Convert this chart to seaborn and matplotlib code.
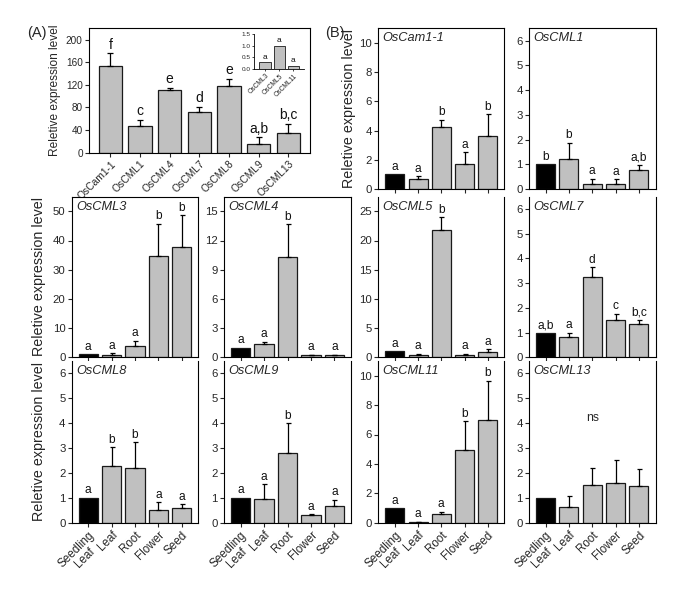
import numpy as np
import pandas as pd
import matplotlib
matplotlib.use("Agg")
import matplotlib.pyplot as plt
import seaborn as sns

# ---------------- data ----------------
tissues = ["Seedling\nLeaf", "Leaf", "Root", "Flower", "Seed"]

a_genes = ["OsCam1-1", "OsCML1", "OsCML4", "OsCML7", "OsCML8", "OsCML9", "OsCML13"]
a_means = [152.5, 46.5, 111.5, 72.5, 118.5, 16.0, 34.5]
a_errs = [23.5, 12.0, 3.5, 9.0, 12.5, 11.5, 17.0]
a_letters = ["f", "c", "e", "d", "e", "a,b", "b,c"]

inset_genes = ["OsCML3", "OsCML5", "OsCML11"]
inset_means = [0.29, 1.0, 0.14]
inset_letters = ["a", "a", "a"]

cam1_means = [1.0, 0.7, 4.22, 1.72, 3.65]
cam1_errs = [0.0, 0.17, 0.52, 0.78, 1.45]
cam1_letters = ["a", "a", "b", "a", "b"]

cml1_means = [1.0, 1.23, 0.2, 0.22, 0.78]
cml1_errs = [0.0, 0.64, 0.22, 0.17, 0.18]
cml1_letters = ["b", "b", "a", "a", "a,b"]

cml3_means = [1.0, 0.9, 4.0, 34.7, 37.9]
cml3_errs = [0.0, 0.5, 1.7, 11.0, 10.8]
cml3_letters = ["a", "a", "a", "b", "b"]

cml4_means = [1.0, 1.33, 10.28, 0.2, 0.2]
cml4_errs = [0.0, 0.27, 3.42, 0.07, 0.07]
cml4_letters = ["a", "a", "b", "a", "a"]

cml5_means = [1.0, 0.46, 21.8, 0.35, 0.9]
cml5_errs = [0.0, 0.14, 2.15, 0.3, 0.45]
cml5_letters = ["a", "a", "b", "a", "a"]

cml7_means = [1.0, 0.83, 3.25, 1.49, 1.34]
cml7_errs = [0.0, 0.17, 0.4, 0.28, 0.18]
cml7_letters = ["a,b", "a", "d", "c", "b,c"]

cml8_means = [1.0, 2.26, 2.19, 0.51, 0.58]
cml8_errs = [0.0, 0.77, 1.05, 0.32, 0.16]
cml8_letters = ["a", "b", "b", "a", "a"]

cml9_means = [1.0, 0.96, 2.81, 0.31, 0.69]
cml9_errs = [0.0, 0.59, 1.19, 0.03, 0.24]
cml9_letters = ["a", "a", "b", "a", "a"]

cml11_means = [1.0, 0.07, 0.62, 4.93, 6.99]
cml11_errs = [0.0, 0.01, 0.13, 1.97, 2.67]
cml11_letters = ["a", "a", "a", "b", "b"]

cml13_means = [1.0, 0.65, 1.52, 1.59, 1.48]
cml13_errs = [0.0, 0.44, 0.66, 0.95, 0.67]
cml13_letters = ["", "", "", "", ""]

ylabel_text = "Reletive expression level"

# ---------------- style ----------------
sns.set_style("ticks")
plt.rcParams['font.family'] = ['Liberation Sans', 'DejaVu Sans']
plt.rcParams['axes.linewidth'] = 0.8
plt.rcParams['axes.edgecolor'] = 'black'

GREY = "#c0c0c0"
EDGE = "#1a1a1a"
W, H = 685, 595
fig = plt.figure(figsize=(W / 100, H / 100), dpi=100)


def px_axes(x0, y0, x1, y1):
    return fig.add_axes([x0 / W, 1 - y1 / H, (x1 - x0) / W, (y1 - y0) / H])


def draw_bars(ax, cats, means, errs, letters, first_black, width,
              letter_size, capsize=1.8, lw=0.9):
    df = pd.DataFrame({"cat": cats, "val": means})
    colors = {c: GREY for c in cats}
    if first_black:
        colors[cats[0]] = "black"
    sns.barplot(data=df, x="cat", y="val", hue="cat", palette=colors,
                order=cats, hue_order=cats, legend=False, width=width,
                edgecolor=EDGE, linewidth=lw, errorbar=None, saturation=1,
                ax=ax)
    x = np.arange(len(cats))
    m = np.asarray(means, dtype=float)
    e = np.zeros(len(cats)) if errs is None else np.asarray(errs, dtype=float)
    mask = e > 0
    if mask.any():
        ax.errorbar(x[mask], m[mask], yerr=[np.zeros(mask.sum()), e[mask]],
                    fmt='none', ecolor='black', elinewidth=lw,
                    capsize=capsize, capthick=lw, zorder=3)
    for xi, mi, ei, lab in zip(x, m, e, letters):
        if lab:
            ax.annotate(lab, (xi, mi + ei), xytext=(0, 1.0),
                        textcoords='offset points', ha='center', va='bottom',
                        fontsize=letter_size, color='#111111')
    ax.set_xlabel("")
    ax.set_ylabel("")


# ---------------- panel A ----------------
axA = px_axes(89, 28.3, 310, 152.7)
draw_bars(axA, a_genes, a_means, a_errs, a_letters, False, 0.79, 10,
          capsize=2.2)
axA.set_ylim(0, 220)
axA.set_xlim(-0.72, 6.73)
axA.set_yticks([0, 40, 80, 120, 160, 200])
axA.tick_params(axis='both', direction='out', length=3, width=0.8,
                labelsize=7.2, pad=1.5)
axA.set_xticks(range(len(a_genes)))
axA.set_xticklabels(a_genes, rotation=45, ha='right', rotation_mode='anchor',
                    fontsize=7.4)
axA.set_ylabel(ylabel_text, fontsize=8.6)
axA.yaxis.set_label_coords(-0.125, 0.5)

# inset
axI = px_axes(254, 34, 304, 69)
draw_bars(axI, inset_genes, inset_means, None, inset_letters, False, 0.82,
          6, lw=0.6)
axI.set_ylim(0, 1.5)
axI.set_xlim(-0.8, 2.75)
axI.set_yticks([0, 0.5, 1.0, 1.5])
axI.set_yticklabels(["0.0", "0.5", "1.0", "1.5"])
axI.tick_params(axis='both', direction='out', length=1.5, width=0.6,
                labelsize=4.6, pad=1)
axI.set_xticks(range(len(inset_genes)))
axI.set_xticklabels(inset_genes, rotation=45, ha='right',
                    rotation_mode='anchor', fontsize=4.8)
axI.spines['top'].set_visible(False)
axI.spines['right'].set_visible(False)
for s in axI.spines.values():
    s.set_linewidth(0.6)

# ---------------- panel B ----------------
cols = [(71.7, 198.3), (224, 351), (378.3, 504.3), (529, 655.5)]
rows = [(28.3, 189), (196.7, 357.3), (361, 522.7)]

panels = [
    ("OsCam1-1", cam1_means, cam1_errs, cam1_letters, 0, 2, 11, [0, 2, 4, 6, 8, 10], True),
    ("OsCML1", cml1_means, cml1_errs, cml1_letters, 0, 3, 6.5, list(range(7)), True),
    ("OsCML3", cml3_means, cml3_errs, cml3_letters, 1, 0, 55, [0, 10, 20, 30, 40, 50], True),
    ("OsCML4", cml4_means, cml4_errs, cml4_letters, 1, 1, 16.5, [0, 3, 6, 9, 12, 15], True),
    ("OsCML5", cml5_means, cml5_errs, cml5_letters, 1, 2, 27.5, [0, 5, 10, 15, 20, 25], False),
    ("OsCML7", cml7_means, cml7_errs, cml7_letters, 1, 3, 6.5, list(range(7)), False),
    ("OsCML8", cml8_means, cml8_errs, cml8_letters, 2, 0, 6.5, list(range(7)), False),
    ("OsCML9", cml9_means, cml9_errs, cml9_letters, 2, 1, 6.5, list(range(7)), False),
    ("OsCML11", cml11_means, cml11_errs, cml11_letters, 2, 2, 11, [0, 2, 4, 6, 8, 10], False),
    ("OsCML13", cml13_means, cml13_errs, cml13_letters, 2, 3, 6.5, list(range(7)), False),
]

for name, means, errs, letters, r, c, ymax, yticks, top in panels:
    x0, x1 = cols[c]
    y0, y1 = rows[r]
    ax = px_axes(x0, y0, x1, y1)
    draw_bars(ax, tissues, means, errs, letters, True, 0.82, 8.6)
    ax.set_ylim(0, ymax)
    ax.set_xlim(-0.71, 4.71)
    ax.set_yticks(yticks)
    ax.set_xticks(range(len(tissues)))
    ax.tick_params(axis='both', direction='out', length=3, width=0.8,
                   labelsize=8.2, pad=1.5)
    if r == 2:
        ax.set_xticklabels(tissues, rotation=45, ha='right',
                           rotation_mode='anchor', fontsize=8.4,
                           multialignment='center', linespacing=0.95)
    else:
        ax.set_xticklabels([])
    ax.spines['top'].set_visible(top)
    ax.text(0.035, 0.975, name, transform=ax.transAxes, ha='left', va='top',
            fontsize=9.2, style='italic')
    if name == "OsCML13":
        ax.text(2, 4.2, "ns", ha='center', va='center', fontsize=8.8)
    if (r == 0 and c == 2) or (r > 0 and c == 0):
        ax.set_ylabel(ylabel_text, fontsize=10.3)
        ax.yaxis.set_label_coords(-0.175 if r == 0 else -0.2, 0.5)

fig.text(27 / W, 1 - 33 / H, "(A)", fontsize=10.5, ha='left', va='center')
fig.text(325 / W, 1 - 33 / H, "(B)", fontsize=10.5, ha='left', va='center')

fig.savefig("out.png", dpi=100)
